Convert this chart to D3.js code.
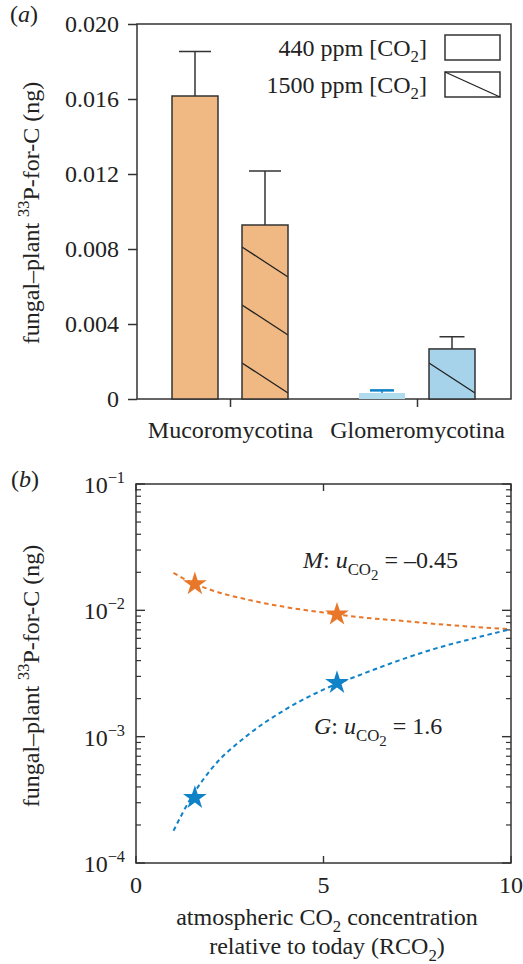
<!DOCTYPE html>
<html>
<head>
<meta charset="utf-8">
<script src="https://cdn.jsdelivr.net/npm/d3@7"></script>
<style>
  body { margin: 0; background: #fff; }
  text { font-family: "Liberation Serif", serif; fill: #222; }
</style>
</head>
<body>
<svg id="chart" width="523" height="964"></svg>
<script>
// panel (a)
const categories = ['Mucoromycotina', 'Glomeromycotina'];
const series = ['440', '1500'];
const values440 = [0.01616, 0.00032];
const values1500 = [0.00928, 0.00267];
const errTop440 = [0.01853, 0.00046];
const errTop1500 = [0.01216, 0.00332];
const yTicksA = [0, 0.004, 0.008, 0.012, 0.016, 0.02];
const yTickLabelsA = ['0', '0.004', '0.008', '0.012', '0.016', '0.020'];

// panel (b)
const starX = [1.57, 5.36];
const starM = [0.01615, 0.00929];
const starG = [0.000328, 0.00267];
const curveX = [1, 1.5, 2, 3, 4, 5, 6, 7, 8, 9, 10];
const curveM = [0.0198, 0.0165, 0.0145, 0.0121, 0.0106, 0.0096, 0.0088, 0.0083, 0.0078, 0.0074, 0.0071];
const curveG = [0.00018, 0.00034, 0.00055, 0.00104, 0.00165, 0.00236, 0.0031, 0.004, 0.005, 0.006, 0.0071];
const xTicksB = [0, 5, 10];
const yDecadesB = [-4, -3, -2, -1];

const orange = '#e8772a';
const blue = '#0f82c8';
const barOrange = '#f0b983';
const barBlue = '#a6d3ea';
const barBlueLight = '#b1dcee';
const ink = '#333';

const svg = d3.select('#chart');
const FS = 24;

// shift (em of the main font) and size for each text level
const LEVELS = {
  base: [0, null],
  sup: [-0.42, '0.68em'],
  sub: [0.28, '0.7em'],
  subsub: [0.52, '0.62em']
};

function addRich(sel, parts) {
  let shift = 0;
  parts.forEach(([t, kind, italic]) => {
    const [target, size] = LEVELS[kind || 'base'];
    const ts = sel.append('tspan').text(t);
    if (size) ts.attr('font-size', size);
    if (italic) ts.attr('font-style', 'italic');
    const d = target - shift;
    if (d !== 0) ts.attr('dy', `${(d * FS).toFixed(2)}px`);
    shift = target;
  });
}

// ---------- panel (a) ----------
const A = { l: 137, r: 511, t: 24, b: 399 };
const x0 = d3.scaleBand().domain(categories).range([A.l, A.r]).padding(0);
const x1 = d3.scaleBand().domain(series).range([35, 151]).paddingInner(0.343);
const yA = d3.scaleLinear().domain([0, 0.02]).range([A.b, A.t]);

const gA = svg.append('g');

gA.append('rect')
  .attr('x', A.l).attr('y', A.t).attr('width', A.r - A.l).attr('height', A.b - A.t)
  .attr('fill', 'none').attr('stroke', ink).attr('stroke-width', 1.5);

const yAxisA = gA.append('g')
  .attr('transform', `translate(${A.l},0)`)
  .call(d3.axisLeft(yA).tickValues(yTicksA).tickSize(9).tickPadding(9)
    .tickFormat((d, i) => yTickLabelsA[i]));
yAxisA.select('.domain').remove();
yAxisA.selectAll('line').attr('stroke', ink).attr('stroke-width', 1.5);
yAxisA.selectAll('text').attr('font-size', FS).attr('fill', '#222');

const xAxisA = gA.append('g')
  .attr('transform', `translate(0,${A.b})`)
  .call(d3.axisBottom(x0).tickSize(8).tickPadding(14));
xAxisA.select('.domain').remove();
xAxisA.selectAll('line').attr('stroke', ink).attr('stroke-width', 1.5);
xAxisA.selectAll('text').attr('font-size', FS).attr('fill', '#222');

const defs = svg.append('defs');
const barColors = [barOrange, barBlue];

categories.forEach((cat, i) => {
  const bx = x0(cat);
  const w = x1.bandwidth();
  // 440 ppm bar
  const xl = bx + x1('440');
  if (i === 0) {
    gA.append('rect').attr('x', xl).attr('y', yA(values440[i])).attr('width', w)
      .attr('height', yA(0) - yA(values440[i])).attr('fill', barOrange)
      .attr('stroke', ink).attr('stroke-width', 1.5);
    gA.append('line').attr('x1', xl + w / 2).attr('x2', xl + w / 2)
      .attr('y1', yA(values440[i])).attr('y2', yA(errTop440[i])).attr('stroke', ink).attr('stroke-width', 1.5);
    gA.append('line').attr('x1', xl + w / 2 - 16).attr('x2', xl + w / 2 + 16)
      .attr('y1', yA(errTop440[i])).attr('y2', yA(errTop440[i])).attr('stroke', ink).attr('stroke-width', 1.5);
  } else {
    gA.append('rect').attr('x', xl).attr('y', yA(values440[i])).attr('width', w)
      .attr('height', yA(0) - yA(values440[i])).attr('fill', barBlueLight);
    gA.append('line').attr('x1', xl + w / 2).attr('x2', xl + w / 2)
      .attr('y1', yA(values440[i])).attr('y2', yA(errTop440[i])).attr('stroke', blue).attr('stroke-width', 1.5);
    gA.append('line').attr('x1', xl + w / 2 - 12).attr('x2', xl + w / 2 + 12)
      .attr('y1', yA(errTop440[i])).attr('y2', yA(errTop440[i])).attr('stroke', blue).attr('stroke-width', 2.5);
  }

  // 1500 ppm bar, hatched
  const xh = bx + x1('1500');
  const top = yA(values1500[i]);
  const cid = `clip${i}`;
  defs.append('clipPath').attr('id', cid).append('rect')
    .attr('x', xh).attr('y', top).attr('width', w).attr('height', yA(0) - top);
  gA.append('rect').attr('x', xh).attr('y', top).attr('width', w)
    .attr('height', yA(0) - top).attr('fill', barColors[i]);
  const hatch = gA.append('g').attr('clip-path', `url(#${cid})`);
  const slope = 30 / 46;
  for (let k = 0; k < 8; k++) {
    const yl = yA(0) - 36 - k * 58;
    hatch.append('line').attr('x1', xh).attr('y1', yl).attr('x2', xh + w).attr('y2', yl + slope * w)
      .attr('stroke', '#222').attr('stroke-width', 1.3);
  }
  gA.append('rect').attr('x', xh).attr('y', top).attr('width', w)
    .attr('height', yA(0) - top).attr('fill', 'none').attr('stroke', ink).attr('stroke-width', 1.5);
  const ecap = i === 0 ? 16 : 12.5;
  gA.append('line').attr('x1', xh + w / 2).attr('x2', xh + w / 2)
    .attr('y1', top).attr('y2', yA(errTop1500[i])).attr('stroke', ink).attr('stroke-width', 1.5);
  gA.append('line').attr('x1', xh + w / 2 - ecap).attr('x2', xh + w / 2 + ecap)
    .attr('y1', yA(errTop1500[i])).attr('y2', yA(errTop1500[i])).attr('stroke', ink).attr('stroke-width', 1.5);
});

// legend
const legendLabels = ['440 ppm [CO', '1500 ppm [CO'];
legendLabels.forEach((lab, i) => {
  const cy = 47.5 + i * 37;
  const t = gA.append('text').attr('x', 427).attr('y', cy + 8).attr('text-anchor', 'end').attr('font-size', FS);
  addRich(t, [[lab], ['2', 'sub'], [']']]);
  gA.append('rect').attr('x', 445).attr('y', cy - 12.5).attr('width', 55).attr('height', 25)
    .attr('fill', '#fff').attr('stroke', ink).attr('stroke-width', 1.5);
  if (i === 1) {
    gA.append('line').attr('x1', 445).attr('y1', cy - 12.5).attr('x2', 500).attr('y2', cy + 12.5)
      .attr('stroke', '#222').attr('stroke-width', 1.3);
  }
});

function panelLabel(x, y, letter) {
  const t = svg.append('text').attr('x', x).attr('y', y).attr('font-size', FS);
  addRich(t, [['('], [letter, null, true], [')']]);
}

function yLabel(cx, cy) {
  const t = svg.append('text').attr('transform', `translate(${cx},${cy}) rotate(-90)`)
    .attr('text-anchor', 'middle').attr('font-size', FS);
  addRich(t, [['fungal–plant '], ['33', 'sup'], ['P-for-C (ng)']]);
}

panelLabel(10, 22, 'a');
yLabel(39, 213);

// ---------- panel (b) ----------
const B = { l: 136, r: 511, t: 484, b: 863 };
const xB = d3.scaleLinear().domain([0, 10]).range([B.l, B.r]);
const yB = d3.scaleLog().domain([1e-4, 1e-1]).range([B.b, B.t]);
const gB = svg.append('g');

gB.append('rect')
  .attr('x', B.l).attr('y', B.t).attr('width', B.r - B.l).attr('height', B.b - B.t)
  .attr('fill', 'none').attr('stroke', ink).attr('stroke-width', 1.5);

// log ticks, inward on both sides
const minorTicks = [];
yDecadesB.slice(0, 3).forEach((e) => {
  for (let m = 2; m <= 9; m++) minorTicks.push(m * Math.pow(10, e));
});
const majorTicks = yDecadesB.map((e) => Math.pow(10, e));
[[B.l, 1], [B.r, -1]].forEach(([xe, dir]) => {
  gB.selectAll(null).data(minorTicks).enter().append('line')
    .attr('x1', xe).attr('x2', xe + dir * 5)
    .attr('y1', (d) => yB(d)).attr('y2', (d) => yB(d))
    .attr('stroke', ink).attr('stroke-width', 1.2);
  gB.selectAll(null).data(majorTicks).enter().append('line')
    .attr('x1', xe).attr('x2', xe + dir * 9)
    .attr('y1', (d) => yB(d)).attr('y2', (d) => yB(d))
    .attr('stroke', ink).attr('stroke-width', 1.4);
});
yDecadesB.forEach((e) => {
  const t = gB.append('text').attr('x', 125).attr('y', yB(Math.pow(10, e)) + 9)
    .attr('text-anchor', 'end').attr('font-size', FS);
  addRich(t, [['10'], [`−${-e}`, 'sup']]);
});

// x ticks inward, top and bottom
xTicksB.forEach((v) => {
  gB.append('line').attr('x1', xB(v)).attr('x2', xB(v)).attr('y1', B.b).attr('y2', B.b - 7)
    .attr('stroke', ink).attr('stroke-width', 1.4);
  gB.append('line').attr('x1', xB(v)).attr('x2', xB(v)).attr('y1', B.t).attr('y2', B.t + 7)
    .attr('stroke', ink).attr('stroke-width', 1.4);
  gB.append('text').attr('x', xB(v)).attr('y', 893).attr('text-anchor', 'middle')
    .attr('font-size', FS).text(v);
});

// fitted curves
const line = d3.line().x((d) => xB(d[0])).y((d) => yB(d[1])).curve(d3.curveMonotoneX);
[[curveM, orange], [curveG, blue]].forEach(([vals, col]) => {
  gB.append('path').datum(curveX.map((xv, i) => [xv, vals[i]]))
    .attr('d', line).attr('fill', 'none').attr('stroke', col)
    .attr('stroke-width', 2).attr('stroke-dasharray', '4.5,3.5');
});

// measured points
const star = d3.symbol().type(d3.symbolStar).size(175);
[[starM, orange], [starG, blue]].forEach(([vals, col]) => {
  gB.selectAll(null).data(starX.map((xv, i) => [xv, vals[i]])).enter().append('path')
    .attr('d', star)
    .attr('transform', (d) => `translate(${xB(d[0])},${yB(d[1])})`)
    .attr('fill', col);
});

// annotations
const tM = gB.append('text').attr('x', 303).attr('y', 568).attr('font-size', FS);
addRich(tM, [['M', null, true], [': '], ['u', null, true], ['CO', 'sub'], ['2', 'subsub'], [' = –0.45']]);
const tG = gB.append('text').attr('x', 314).attr('y', 734).attr('font-size', FS);
addRich(tG, [['G', null, true], [': '], ['u', null, true], ['CO', 'sub'], ['2', 'subsub'], [' = 1.6']]);

panelLabel(11, 487, 'b');
yLabel(39, 676);

const xt1 = svg.append('text').attr('x', 327).attr('y', 925).attr('text-anchor', 'middle').attr('font-size', FS);
addRich(xt1, [['atmospheric CO'], ['2', 'sub'], [' concentration']]);
const xt2 = svg.append('text').attr('x', 327).attr('y', 954).attr('text-anchor', 'middle').attr('font-size', FS);
addRich(xt2, [['relative to today (RCO'], ['2', 'sub'], [')']]);
</script>
</body>
</html>
